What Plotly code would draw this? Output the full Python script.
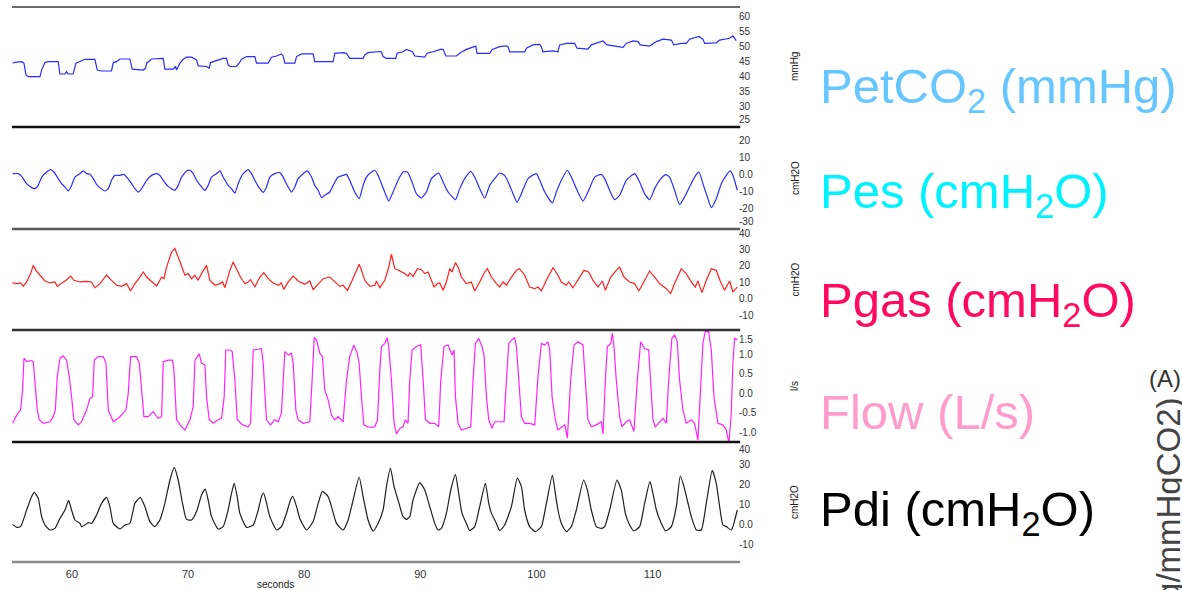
import plotly.graph_objects as go

# ---------------- data (seconds, signal values) ----------------
petco2_t = [54.89,55.10,55.67,55.87,56.04,56.24,57.25,57.39,57.68,57.96,58.82,58.97,59.40,59.54,59.69,60.11,60.34,60.69,61.12,61.98,62.18,62.55,63.41,63.56,63.84,64.13,64.99,65.19,66.14,66.34,66.43,66.86,67.29,67.86,68.00,68.72,68.92,69.01,69.30,69.58,69.87,70.30,70.73,70.87,71.59,71.82,71.93,72.45,73.02,73.31,73.45,73.60,74.17,74.40,74.60,75.03,75.75,75.89,76.90,77.18,77.61,78.04,78.19,78.33,79.19,79.34,79.77,80.77,80.91,82.49,82.63,83.35,83.64,83.92,85.07,85.22,85.50,86.51,
            86.65,86.79,87.08,87.88,88.00,88.51,88.80,89.32,89.52,90.38,90.58,91.10,91.73,91.96,92.19,93.10,93.45,93.96,94.77,94.88,95.97,96.20,96.83,97.41,97.55,97.69,98.98,99.13,99.70,100.28,100.42,100.56,101.42,101.85,101.99,102.57,103.29,103.49,104.43,104.72,105.15,105.73,106.07,107.16,107.45,107.73,108.31,108.74,108.94,109.74,110.32,110.89,111.61,111.81,112.47,112.90,113.18,113.99,114.33,114.48,115.48,115.77,116.63,116.91,117.20]
petco2_v = [44.5,44.8,45.0,44.5,40.6,40.0,40.0,42.2,44.7,45.0,45.0,40.9,40.9,41.7,40.9,40.9,44.5,45.0,45.8,45.8,42.2,41.9,41.9,44.7,45.0,45.9,45.9,42.5,42.2,42.8,44.5,45.9,45.9,46.1,42.5,42.5,43.4,42.2,44.5,45.8,46.5,46.5,45.6,43.6,43.4,42.8,44.7,45.4,46.1,46.1,43.9,43.4,43.4,44.5,45.8,46.7,46.7,44.5,44.5,46.5,46.9,47.6,46.9,44.5,44.5,46.7,47.6,47.6,45.0,45.0,47.8,48.0,47.8,46.1,46.1,47.2,48.0,48.4,
            48.3,46.7,46.1,46.1,47.8,48.3,49.1,48.3,46.9,46.5,47.8,48.3,49.1,49.1,46.9,46.9,48.0,49.1,50.2,47.8,47.8,49.1,50.0,50.3,50.0,48.3,48.3,49.5,50.6,50.8,50.0,48.3,48.6,48.3,50.6,51.1,51.1,49.5,49.2,50.6,51.1,51.9,50.6,50.0,49.8,51.1,51.9,51.7,50.6,50.2,51.7,52.5,52.2,50.6,51.1,51.1,52.5,53.4,52.5,51.1,51.3,52.2,52.8,53.6,52.0]

pes_t = [54.89,55.38,55.67,56.10,56.53,56.82,57.10,57.39,57.82,58.16,58.45,58.82,59.11,59.40,59.68,59.97,60.26,60.69,60.98,61.26,61.55,61.84,62.12,62.41,62.84,63.13,63.41,63.70,64.13,64.48,64.71,65.14,65.42,65.71,66.00,66.43,66.86,67.29,67.57,67.86,68.29,68.86,69.15,69.44,69.87,70.16,70.44,70.73,71.16,71.45,71.73,72.02,72.45,72.74,73.02,73.45,73.74,74.03,74.31,74.74,75.18,75.46,75.75,76.04,76.47,76.75,77.04,77.47,77.90,78.19,78.47,78.90,79.19,79.48,79.91,80.25,80.63,80.91,81.20,81.49,81.77,82.20,82.49,82.92,83.35,83.64,83.92,84.35,84.73,85.07,85.36,85.79,86.08,
         86.36,86.65,86.99,87.28,87.65,88.08,88.51,88.89,89.23,89.66,90.09,90.52,90.95,91.58,91.96,92.39,93.02,93.39,93.82,94.34,94.68,95.11,95.54,95.97,96.40,96.83,97.26,97.69,97.98,98.33,98.70,99.27,99.99,100.28,100.71,101.37,101.71,102.14,102.66,103.00,103.43,104.00,104.43,105.01,105.58,105.87,106.30,106.73,107.16,107.73,108.45,108.88,109.31,109.74,110.17,110.60,111.12,111.46,111.89,112.32,112.75,113.18,113.61,113.99,114.33,114.76,115.05,115.48,115.91,116.34,116.68,116.91,117.29]
pes_v = [0.2,0.2,-1.4,-5.7,-8.0,-8.6,-6.7,-1.8,1.2,2.6,1.2,-2.7,-5.7,-7.6,-10.0,-6.7,-1.8,0.2,1.8,0.2,-0.2,-2.7,-6.1,-8.0,-10.0,-8.6,-3.7,-0.8,-0.8,-0.2,-1.8,-5.7,-8.6,-10.6,-8.6,-3.7,-0.8,0.2,-0.8,-3.7,-7.3,-9.6,-6.7,-1.8,1.8,2.2,0.2,-3.7,-7.6,-9.6,-6.7,-1.8,0.2,1.8,-1.8,-6.7,-8.6,-11.2,-5.7,0.2,2.6,0.2,-3.7,-7.3,-10.8,-7.6,-1.8,0.2,0.8,-1.8,-5.7,-10.6,-7.6,-2.7,0.2,1.8,-1.8,-6.7,-9.6,-13.9,-12.5,-10.6,-6.7,-1.8,-0.8,-0.2,-3.7,-10.6,-14.5,-6.7,-1.8,1.2,2.2,
         -0.8,-5.7,-11.6,-15.9,-10.6,-3.7,1.2,1.2,-3.7,-11.6,-14.1,-10.6,-2.7,0.6,-4.7,-10.6,-15.1,-8.6,-2.7,1.6,-1.8,-8.6,-14.1,-6.7,-2.7,0.6,-0.8,-6.7,-11.6,-16.5,-11.6,-2.7,0.2,-3.7,-10.6,-17.1,-10.6,-3.7,2.2,-1.8,-8.6,-15.9,-10.6,-1.8,-0.2,-2.7,-9.6,-15.1,-12.5,-3.7,0.2,-4.7,-11.6,-15.1,-8.6,-3.7,-0.4,-1.8,-9.6,-18.0,-13.5,-7.6,-1.8,1.2,-5.7,-14.5,-19.8,-14.5,-5.7,-0.8,1.8,-0.8,-9.6]

pgas_t = [54.89,55.38,55.58,55.81,56.10,56.44,56.67,56.90,57.25,57.68,58.11,58.54,58.74,59.11,59.54,59.89,60.17,60.69,61.26,61.69,61.98,62.41,62.98,63.41,63.84,64.27,64.71,65.05,65.42,65.85,66.14,66.43,66.86,67.29,67.57,67.72,67.92,68.15,68.58,68.86,69.15,69.44,69.73,70.01,70.30,70.59,70.87,71.16,71.59,71.88,72.31,72.74,72.97,73.17,73.60,73.88,74.23,74.51,74.89,75.18,75.38,75.75,76.18,76.52,76.90,77.33,77.76,78.04,78.24,78.62,79.05,79.48,80.05,80.48,80.77,81.20,81.63,82.20,82.63,83.06,83.35,83.72,84.07,84.50,84.73,84.93,85.22,85.65,86.08,
          86.22,86.51,86.94,87.28,87.51,87.80,88.23,88.66,88.94,89.09,89.37,89.75,90.09,90.38,90.67,90.95,91.18,91.47,91.67,91.96,92.24,92.53,92.73,93.02,93.25,93.53,93.96,94.39,94.68,95.11,95.54,95.77,96.12,96.55,96.83,97.12,97.41,97.84,98.27,98.55,98.98,99.41,99.85,100.13,100.42,100.85,101.42,101.85,102.14,102.57,102.77,103.14,103.57,104.09,104.49,104.86,105.30,105.67,105.93,106.39,106.87,107.16,107.53,108.02,108.45,108.82,109.31,109.74,110.17,110.60,111.18,111.55,111.89,112.47,112.90,113.33,113.67,113.90,114.25,114.62,115.05,115.48,115.85,116.19,116.63,116.91,117.29]
pgas_v = [9.6,9.2,9.6,7.5,10.2,15.3,20.3,17.3,14.3,10.8,9.6,10.2,7.5,9.2,11.6,13.8,11.2,10.2,10.6,10.2,6.7,9.2,14.3,11.2,8.2,7.5,9.2,4.7,9.2,13.2,16.3,13.2,10.2,7.7,11.2,13.2,12.2,19.3,28.5,30.5,25.4,19.3,14.3,15.3,12.2,14.3,11.2,15.3,20.3,11.2,8.2,9.2,10.2,6.7,17.3,22.4,17.3,13.2,9.2,10.2,11.6,7.1,13.2,15.9,12.2,9.6,8.2,9.6,5.7,10.2,13.8,10.8,8.8,10.8,5.5,9.2,12.2,13.2,10.2,7.5,8.2,5.1,10.2,17.3,21.0,17.3,11.2,7.5,8.2,
          10.8,6.7,11.2,19.3,27.1,18.3,16.9,15.3,13.6,15.7,13.6,18.3,17.7,15.3,16.3,11.2,7.1,9.2,9.6,5.1,10.2,18.3,16.3,22.0,19.3,13.2,9.2,10.2,4.7,10.2,16.3,18.3,13.2,9.2,7.1,10.2,8.2,13.2,17.3,18.3,14.3,7.1,6.1,7.1,4.7,11.2,18.9,14.3,10.2,8.2,10.2,6.7,11.2,17.3,16.3,11.2,7.1,10.8,5.1,13.2,17.3,19.3,13.2,10.2,9.2,4.7,11.2,16.9,13.2,9.2,6.1,3.1,9.2,18.3,15.3,10.2,7.1,10.8,3.7,11.2,18.3,17.3,10.2,5.1,10.8,4.1,7.1]

flow_t = [54.89,55.24,55.58,55.75,55.87,56.10,56.53,56.67,56.82,57.02,57.19,57.53,58.11,58.39,58.57,58.74,58.97,59.25,59.54,59.77,59.97,60.17,60.55,60.83,61.26,61.55,61.78,61.92,62.27,62.70,62.93,63.13,63.56,64.13,64.65,64.85,65.05,65.57,65.80,66.00,66.20,66.57,67.00,67.43,67.72,67.86,68.29,68.66,68.78,69.01,69.44,69.73,70.16,70.44,70.59,70.96,71.16,71.45,71.59,71.82,72.16,72.59,72.88,73.11,73.25,73.60,73.80,74.03,74.23,74.69,75.18,75.38,75.61,76.04,76.32,76.47,76.75,77.10,77.47,77.76,78.04,78.33,78.62,78.90,79.05,79.28,79.48,79.91,80.48,80.68,80.86,81.06,81.34,81.57,81.77,82.06,82.35,82.63,82.92,83.35,83.64,83.92,84.27,84.56,84.73,84.93,85.13,85.50,85.79,86.08,
          86.31,86.51,86.65,86.94,87.14,87.28,87.51,87.74,87.94,88.23,88.51,88.71,88.94,89.09,89.29,89.66,90.03,90.24,90.44,90.81,91.24,91.58,91.76,92.04,92.39,92.73,92.90,93.02,93.25,93.53,93.96,94.34,94.54,94.74,95.02,95.31,95.48,95.69,95.89,96.17,96.40,96.98,97.21,97.41,97.61,97.89,98.12,98.27,98.47,98.70,98.98,99.41,99.85,100.13,100.42,100.71,100.99,101.14,101.34,101.62,101.85,102.20,102.43,102.66,102.94,103.23,103.57,104.00,104.20,104.43,104.72,105.15,105.58,105.73,105.93,106.10,106.39,106.53,106.67,106.87,107.16,107.36,107.73,108.02,108.39,108.68,108.97,109.31,109.66,109.83,110.03,110.23,110.60,110.89,111.18,111.38,111.66,111.89,112.12,112.32,112.61,112.90,113.33,113.61,113.90,114.13,114.33,114.53,114.82,115.05,115.28,115.62,116.05,116.34,116.57,116.77,116.91,117.06,117.29]
flow_v = [-0.77,-0.56,-0.43,0.08,0.90,0.81,0.84,0.81,0.26,-0.43,-0.68,-0.77,-0.73,-0.60,-0.43,0.43,0.90,0.96,0.85,0.43,-0.09,-0.68,-0.81,-0.73,-0.43,-0.13,-0.09,0.85,0.94,0.94,0.77,-0.43,-0.73,-0.60,-0.43,0.00,0.94,0.94,0.77,0.08,-0.60,-0.60,-0.47,-0.64,-0.60,0.81,0.85,0.85,0.60,-0.68,-0.86,-0.94,-0.68,-0.34,0.85,1.01,0.77,0.73,-0.09,-0.68,-0.77,-0.68,-0.64,-0.09,1.11,1.11,1.07,0.34,-0.68,-0.81,-0.86,-0.77,1.11,1.13,1.15,0.77,-0.68,-0.81,-0.68,-0.73,-0.51,1.07,0.98,1.03,0.77,-0.43,-0.68,-0.77,-0.73,0.34,1.43,1.37,1.03,0.94,0.08,-0.17,-0.56,-0.68,-0.60,-0.73,0.34,0.94,1.24,1.03,0.77,-0.09,-0.81,-0.86,-0.87,-0.86,
          -0.68,0.60,1.20,1.28,1.43,1.20,0.34,-0.77,-1.04,-0.90,-0.86,-0.68,-0.77,0.34,1.11,1.20,1.24,0.34,-0.68,-0.77,-0.77,-0.86,0.34,1.20,1.24,0.98,1.11,-0.09,-0.77,-0.94,-0.90,-0.86,0.34,1.28,1.41,1.20,0.98,-0.09,-0.68,-0.90,-0.73,-0.73,-0.73,0.34,1.28,1.37,1.43,1.20,0.34,-0.60,-0.77,-0.77,-0.81,0.43,1.28,1.24,1.32,1.11,-0.09,-0.68,-0.94,-0.86,-0.81,-1.15,0.34,1.24,1.32,1.24,0.34,-0.68,-0.86,-0.81,-0.73,-1.04,0.34,1.20,1.28,1.54,1.20,0.34,-0.60,-0.86,-0.73,-0.68,-0.98,0.34,1.32,1.15,1.11,0.34,-0.68,-0.86,-0.73,-0.64,-0.77,0.34,1.41,1.50,1.32,0.34,-0.43,-0.77,-0.68,-0.77,-1.20,0.34,1.28,1.58,1.58,1.11,-0.09,-0.77,-0.81,-0.94,-1.28,-0.51,0.77,1.41,1.37]

pdi_t = [54.89,55.24,55.58,56.10,56.53,56.76,57.10,57.39,57.68,58.11,58.54,58.97,59.40,59.71,59.97,60.26,60.69,60.83,61.12,61.41,61.69,62.12,62.55,62.98,63.27,63.56,64.13,64.56,64.99,65.42,65.88,66.28,66.71,67.14,67.57,68.00,68.44,68.81,69.15,69.52,69.87,70.30,70.73,71.16,71.48,71.73,72.02,72.59,73.02,73.45,73.74,73.97,74.23,74.46,75.03,75.61,76.04,76.32,76.50,76.76,77.04,77.62,78.04,78.47,78.82,79.02,79.34,79.62,80.20,80.77,81.20,81.57,82.06,82.35,82.78,83.35,83.78,84.21,84.73,85.07,85.50,85.93,
         86.36,86.79,87.08,87.42,87.74,88.08,88.51,88.80,89.09,89.37,89.95,90.38,90.81,91.24,91.53,91.81,92.24,92.62,93.02,93.30,93.59,93.96,94.25,94.68,95.11,95.60,95.89,96.12,96.55,96.83,97.26,97.84,98.35,98.70,98.98,99.41,99.90,100.42,100.85,101.37,101.62,101.85,102.14,102.57,103.00,103.43,104.06,104.38,104.72,105.15,105.58,105.87,106.30,106.93,107.30,107.65,108.02,108.39,108.88,109.31,109.77,110.03,110.32,110.75,111.12,111.61,112.04,112.38,112.70,112.98,113.33,113.76,114.19,114.62,115.13,115.48,115.77,116.05,116.34,116.77,117.29]
pdi_v = [0.3,-1.2,-0.8,7.5,14.2,16.3,13.3,4.2,0,-2.5,-1.7,3.3,7.5,12.3,7.5,2.5,0.8,-0.8,0,1.2,0.8,5,10.8,13.8,9.2,0.8,-2,0,0.8,10.8,13.8,9.2,1.7,-0.8,2.5,10.8,22.5,28.8,22.5,10.8,2.8,2.5,6.7,15,18,12.5,4.2,-2,-0.8,7.5,15.8,20.8,14.2,5.8,-1.2,0,7.5,14.2,16,10.8,4.2,-2.5,-0.8,5.8,12.5,14.3,9.2,3.3,-2.5,1.7,10.8,16.8,14.2,9.2,0.8,-2.5,2.5,12.5,24,14.2,2.5,-3,
         0.8,7.5,19.2,28.5,19.2,12.5,4.2,2.8,4.2,12.5,21.2,17.5,9.2,0.8,-2.5,-1.7,5.8,17.5,25.3,15.8,5.8,0.8,-2.8,-0.8,9.2,20.8,10.8,5.8,0.8,-2.8,0,9.2,23.5,19.2,7.5,-0.8,-3.3,-0.8,10.8,25,15.8,7.5,0.8,-3.3,-0.8,7.5,22.5,17.5,7.5,-0.8,-1.7,-0.8,7.5,22.5,17.5,5.8,0,-3,-0.8,10.8,21.8,15.8,7.5,0.8,-3,-0.8,9.2,24.5,19.2,12.5,4.2,-2.5,-2.5,10.8,27.3,20.8,9.2,0,-0.8,-2.5,7.5]

x_range = [54.84, 117.35]
x_tickvals = [60, 70, 80, 90, 100, 110]

y_ranges = [[23.23, 63.23], [-32.35, 27.65], [-19.1, 42.5], [-1.249, 1.623], [-18.5, 41.5]]
# label positions as drawn in the reference (edge labels are pulled inside their panel)
y_tickvals = [[60, 55, 50, 45, 40, 35, 30, 25.8],
              [20, 10, 0, -10, -20, -28],
              [40, 30, 20, 10, 0, -10],
              [1.37, 1.0, 0.5, 0.0, -0.5, -1.0],
              [37.6, 30, 20, 10, 0, -10]]
y_ticktext = [["60", "55", "50", "45", "40", "35", "30", "25"],
              ["20", "10", "0.0", "-10", "-20", "-30"],
              ["40", "30", "20", "10", "0.0", "-10"],
              ["1.5", "1.0", "0.5", "0.0", "-0.5", "-1.0"],
              ["40", "30", "20", "10", "0.0", "-10"]]
units = ["mmHg", "cmH2O", "cmH2O", "l/s", "cmH2O"]

big_labels = ["PetCO<sub>2</sub> (mmHg)", "Pes (cmH<sub>2</sub>O)", "Pgas (cmH<sub>2</sub>O)",
              "Flow (L/s)", "Pdi (cmH<sub>2</sub>O)"]

# ---------------- styling ----------------
FONT = "Liberation Sans, Arial, sans-serif"
series = [(petco2_t, petco2_v, "#2a2aff", "linear"),
          (pes_t, pes_v, "#2a2aff", "spline"),
          (pgas_t, pgas_v, "#ff2020", "linear"),
          (flow_t, flow_v, "#ff22ff", "linear"),
          (pdi_t, pdi_v, "#1e1e1e", "spline")]
domains = [[0.78475, 0.98814], [0.61186, 0.78475], [0.44068, 0.61186],
           [0.25085, 0.44068], [0.04746, 0.25085]]
sep_colors = ["#111111", "#5a5a5a", "#333333", "#111111", "#8a8a8a"]
label_colors = ["#66c6ff", "#00f2ff", "#ff0a60", "#ff9ccc", "#000000"]
label_y = [0.8475, 0.6695, 0.4864, 0.3020, 0.1322]

fig = go.Figure()
layout = dict(width=1182, height=590, margin=dict(l=0, r=0, t=0, b=0),
              paper_bgcolor="white", plot_bgcolor="white", showlegend=False,
              font=dict(family=FONT, color="#222222"))
shapes = []
annotations = []
xdom = [0.010152, 0.624365]
for i, (t, v, col, shp) in enumerate(series):
    n = i + 1
    xa = "x" if n == 1 else f"x{n}"
    ya = "y" if n == 1 else f"y{n}"
    line = dict(color=col, width=1.2, shape=shp)
    if shp == "spline":
        line["smoothing"] = 0.5
    fig.add_trace(go.Scatter(x=t, y=v, mode="lines", line=line, xaxis=xa, yaxis=ya,
                             hoverinfo="skip"))
    xkey = "xaxis" if n == 1 else f"xaxis{n}"
    ykey = "yaxis" if n == 1 else f"yaxis{n}"
    layout[xkey] = dict(domain=xdom, range=x_range, anchor=ya, showgrid=False, zeroline=False,
                        showline=False, ticks="", showticklabels=(n == 5),
                        tickvals=x_tickvals, ticklabelstandoff=4,
                        tickfont=dict(size=11, color="#333333"))
    layout[ykey] = dict(domain=domains[i], range=y_ranges[i], anchor=xa, side="right",
                        showgrid=False, zeroline=False, showline=False, ticks="",
                        tickvals=y_tickvals[i], ticktext=y_ticktext[i],
                        tickfont=dict(size=10, color="#333333"))
    shapes.append(dict(type="line", xref=f"{xa} domain", yref=f"{ya} domain",
                       x0=0, x1=1.003, y0=0, y1=0, line=dict(color=sep_colors[i], width=2.5)))
    annotations.append(dict(text=units[i], xref="paper", yref=f"{ya} domain", x=0.6726, y=0.5,
                            xanchor="center", yanchor="middle",
                            textangle=-90, showarrow=False, font=dict(size=10, color="#222222")))
    annotations.append(dict(text=big_labels[i], xref="paper", yref="paper", x=0.692, y=label_y[i],
                            xanchor="left", yanchor="middle", showarrow=False,
                            font=dict(size=49, color=label_colors[i], family=FONT)))

shapes.append(dict(type="line", xref="x domain", yref="y domain", x0=0, x1=1.003, y0=1, y1=1,
                   line=dict(color="#6a6a6a", width=2)))
annotations.append(dict(text="seconds", xref="paper", yref="paper", x=0.2335, y=1 - 584 / 590,
                        xanchor="center", yanchor="middle",
                        showarrow=False, font=dict(size=10, color="#222222")))
annotations.append(dict(text="(A)", xref="paper", yref="paper", x=0.9704, y=0.3593,
                        xanchor="left", yanchor="middle", showarrow=False,
                        font=dict(size=24, color="#333333")))
annotations.append(dict(text="g/mmHgCO2)", xref="paper", yref="paper", x=0.9885, y=0.155,
                        xanchor="center", yanchor="middle", textangle=-90, showarrow=False,
                        font=dict(size=33, color="#444444")))
layout["shapes"] = shapes
layout["annotations"] = annotations
fig.update_layout(**layout)
fig.write_html("out.html")
